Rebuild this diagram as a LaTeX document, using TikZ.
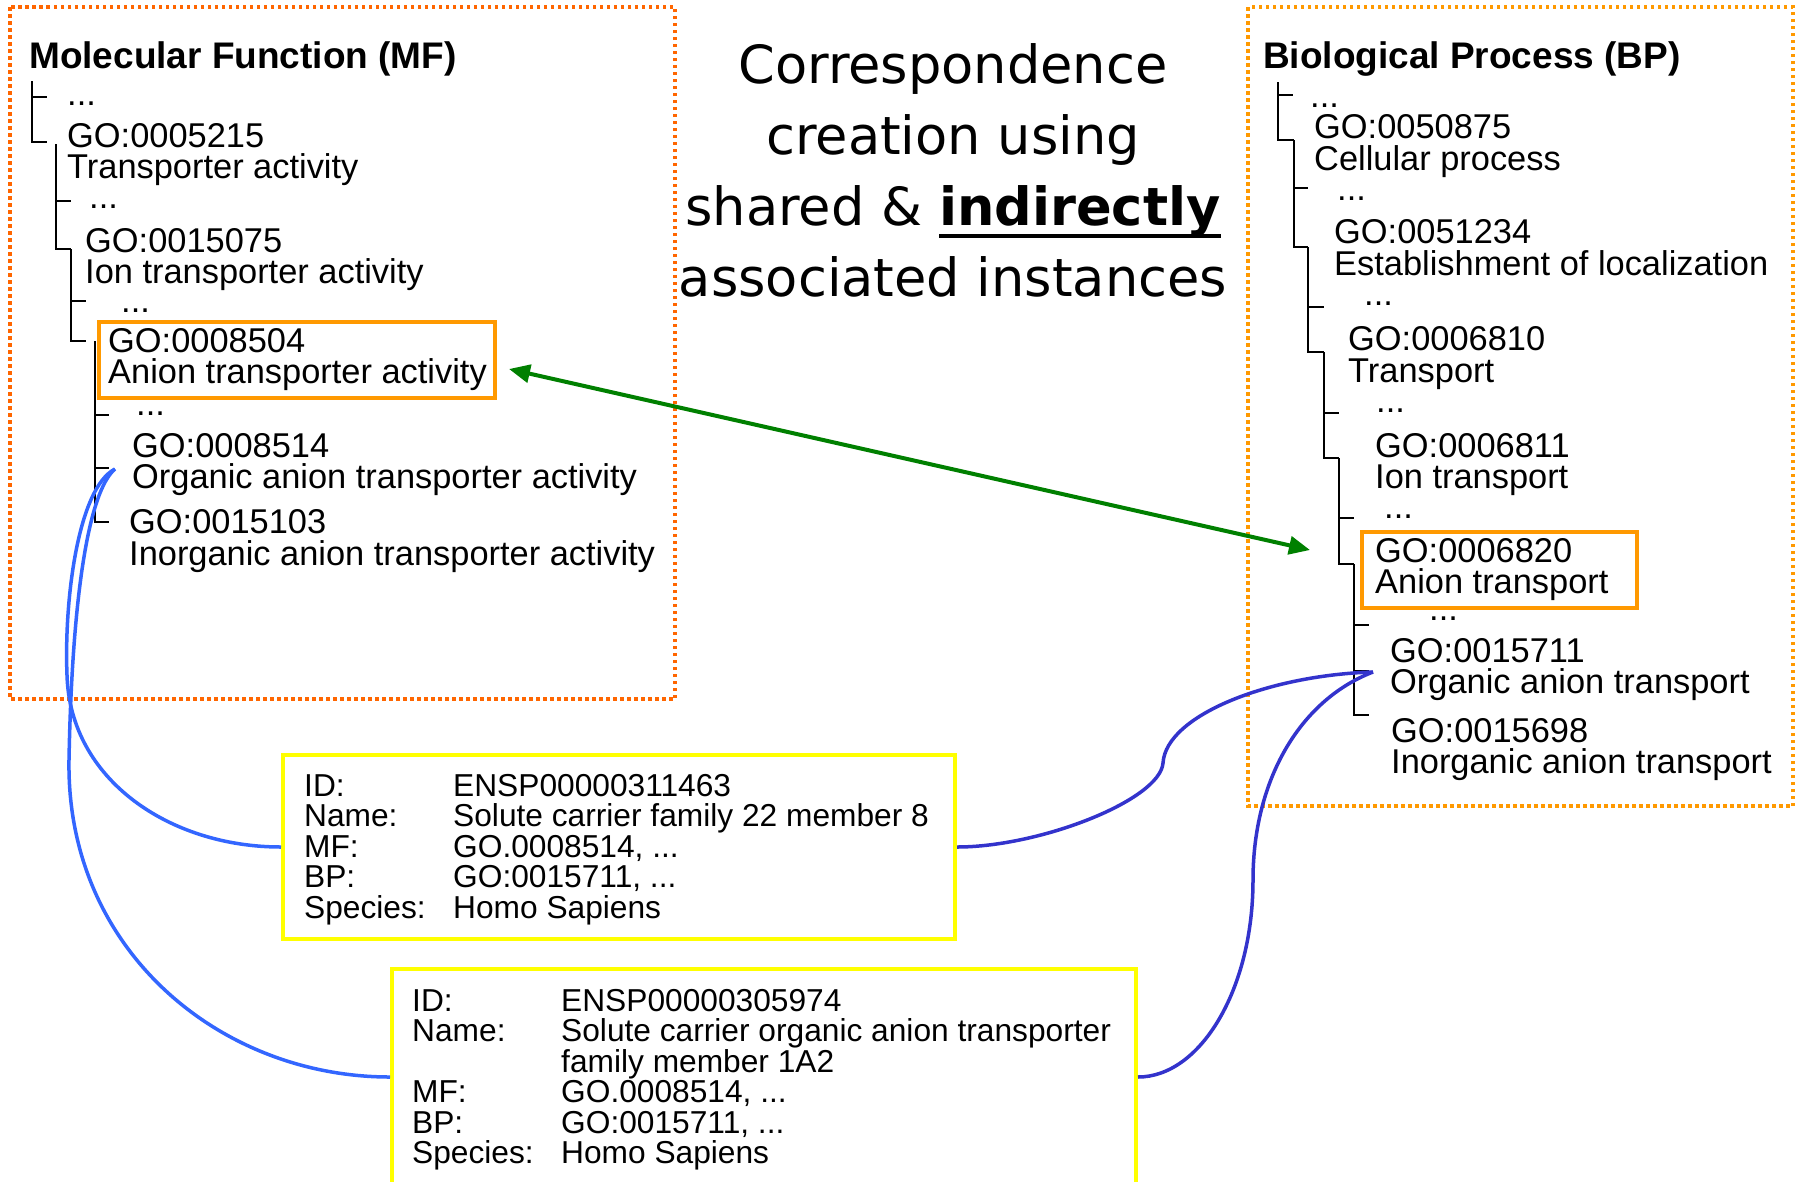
\documentclass[tikz,border=0pt]{standalone}
\usepackage{fontspec}
\setmainfont{Liberation Sans}
\newfontfamily\titlefont{DejaVu Sans}
\usetikzlibrary{arrows.meta}
\definecolor{mforange}{RGB}{255,102,0}
\definecolor{bporange}{RGB}{255,153,0}
\definecolor{hlorange}{RGB}{255,153,0}
\definecolor{ybox}{RGB}{255,255,0}
\definecolor{lblue}{RGB}{51,102,255}
\definecolor{dblue}{RGB}{51,51,204}
\definecolor{arrgreen}{RGB}{0,128,0}
\newcommand\myul[1]{\setbox0\hbox{#1}\rlap{\rule[-13pt]{\wd0}{4pt}}\box0}
\begin{document}
\begin{tikzpicture}[x=1pt,y=-1pt,
  treetxt/.style={anchor=base west, inner sep=0pt, font=\fontsize{34.4}{32}\selectfont},
  headtxt/.style={anchor=base west, inner sep=0pt, font=\fontsize{37}{40}\selectfont\bfseries},
  boxtxt/.style={anchor=base west, inner sep=0pt, font=\fontsize{31.7}{30.5}\selectfont},
  titletxt/.style={anchor=base, inner sep=0pt, font=\titlefont\fontsize{52.6}{71}\selectfont},
  treeline/.style={line width=2.4pt, black},
  ontobox/.style={line width=3.5pt, dash pattern=on 3.5pt off 3.5pt},
  hlbox/.style={draw=hlorange, line width=3.5pt, inner sep=0pt},
  instbox/.style={draw=ybox, line width=4pt, inner sep=0pt},
  lcurve/.style={lblue, line width=3.5pt},
  rcurve/.style={dblue, line width=3.5pt},
  corr/.style={arrgreen, line width=4pt, {Triangle[length=21pt,width=18pt]}-{Triangle[length=21pt,width=18pt]}}
]
\useasboundingbox (0,0) rectangle (1803,1181);
\fill[white] (0,0) rectangle (1803,1181);

% ontology frames
\draw[ontobox, mforange] (10,7) rectangle (675,699);
\draw[ontobox, bporange] (1248,7) rectangle (1793,806);

% highlight boxes
\node[hlbox, minimum width=396pt, minimum height=76pt] (mfhl) at (297,360) {};
\node[hlbox, minimum width=275pt, minimum height=76pt] (bphl) at (1499.5,570) {};

% instance boxes
\node[instbox, minimum width=672pt, minimum height=184pt] (inst1) at (619,847) {};
\node[instbox, minimum width=744pt, minimum height=216pt] (inst2) at (764,1077) {};

% ---------------- MF tree ----------------
\node[headtxt] (mfhead) at (29,68) {Molecular Function (MF)};
\draw[treeline] (32,81) -- (32,142) -- (47,142);
\draw[treeline] (32,97) -- (47,97);
\draw[treeline] (56,144) -- (56,249) -- (71,249);
\draw[treeline] (56,201) -- (71,201);
\draw[treeline] (71,249) -- (71,341) -- (86,341);
\draw[treeline] (71,301) -- (86,301);
\draw[treeline] (95,341) -- (95,522) -- (109,522);
\draw[treeline] (95,415) -- (109,415);
\draw[treeline] (95,468) -- (109,468);

\node[treetxt] (mfd1) at (67,105) {...};
\node[treetxt] (mf5215) at (67,147) {GO:0005215};
\node[treetxt] (mf5215n) at (67,178) {Transporter activity};
\node[treetxt] (mfd2) at (89,208) {...};
\node[treetxt] (mf15075) at (85,252) {GO:0015075};
\node[treetxt] (mf15075n) at (85,283) {Ion transporter activity};
\node[treetxt] (mfd3) at (121,312) {...};
\node[treetxt] (mf8504) at (108,352) {GO:0008504};
\node[treetxt] (mf8504n) at (108,383) {Anion transporter activity};
\node[treetxt] (mfd4) at (136,415) {...};
\node[treetxt] (mf8514) at (132,457) {GO:0008514};
\node[treetxt] (mf8514n) at (132,488) {Organic anion transporter activity};
\node[treetxt] (mf15103) at (129,533) {GO:0015103};
\node[treetxt] (mf15103n) at (129,565) {Inorganic anion transporter activity};

% ---------------- BP tree ----------------
\node[headtxt] (bphead) at (1263,68) {Biological Process (BP)};
\draw[treeline] (1278,82) -- (1278,140) -- (1294,140);
\draw[treeline] (1278,95) -- (1293,95);
\draw[treeline] (1294,140) -- (1294,247) -- (1308,247);
\draw[treeline] (1294,188) -- (1308,188);
\draw[treeline] (1308,247) -- (1308,352) -- (1324,352);
\draw[treeline] (1308,307) -- (1324,307);
\draw[treeline] (1324,352) -- (1324,458) -- (1339,458);
\draw[treeline] (1324,413) -- (1339,413);
\draw[treeline] (1339,458) -- (1339,564) -- (1354,564);
\draw[treeline] (1339,518) -- (1354,518);
\draw[treeline] (1354,564) -- (1354,715) -- (1369,715);
\draw[treeline] (1354,625) -- (1369,625);
\draw[treeline] (1354,671) -- (1369,671);

\node[treetxt] (bpd1) at (1310,107) {...};
\node[treetxt] (bp50875) at (1314,138) {GO:0050875};
\node[treetxt] (bp50875n) at (1314,170) {Cellular process};
\node[treetxt] (bpd2) at (1337,200) {...};
\node[treetxt] (bp51234) at (1334,243) {GO:0051234};
\node[treetxt] (bp51234n) at (1334,275) {Establishment of localization};
\node[treetxt] (bpd3) at (1364,305) {...};
\node[treetxt] (bp6810) at (1348,350) {GO:0006810};
\node[treetxt] (bp6810n) at (1348,382) {Transport};
\node[treetxt] (bpd4) at (1376,412) {...};
\node[treetxt] (bp6811) at (1375,457) {GO:0006811};
\node[treetxt] (bp6811n) at (1375,488) {Ion transport};
\node[treetxt] (bpd5) at (1384,518) {...};
\node[treetxt] (bp6820) at (1375,562) {GO:0006820};
\node[treetxt] (bp6820n) at (1375,593) {Anion transport};
\node[treetxt] (bpd6) at (1429,620) {...};
\node[treetxt] (bp15711) at (1390,662) {GO:0015711};
\node[treetxt] (bp15711n) at (1390,693) {Organic anion transport};
\node[treetxt] (bp15698) at (1391,742) {GO:0015698};
\node[treetxt] (bp15698n) at (1391,773) {Inorganic anion transport};

% ---------------- centre title ----------------
\node[titletxt] (t1) at (953,83) {Correspondence};
\node[titletxt] (t2) at (953,154) {creation using};
\node[titletxt] (t3) at (953,225) {shared \& \myul{\bfseries indirectly}};
\node[titletxt] (t4) at (953,296) {associated instances};

% ---------------- instance 1 ----------------
\node[boxtxt] (i1l1) at (304,796) {ID:};
\node[boxtxt] (i1v1) at (453,796) {ENSP00000311463};
\node[boxtxt] (i1l2) at (304,826.5) {Name:};
\node[boxtxt] (i1v2) at (453,826.5) {Solute carrier family 22 member 8};
\node[boxtxt] (i1l3) at (304,857) {MF:};
\node[boxtxt] (i1v3) at (453,857) {GO.0008514, ...};
\node[boxtxt] (i1l4) at (304,887.5) {BP:};
\node[boxtxt] (i1v4) at (453,887.5) {GO:0015711, ...};
\node[boxtxt] (i1l5) at (304,918) {Species:};
\node[boxtxt] (i1v5) at (453,918) {Homo Sapiens};

% ---------------- instance 2 ----------------
\node[boxtxt] (i2l1) at (412,1011) {ID:};
\node[boxtxt] (i2v1) at (561,1011) {ENSP00000305974};
\node[boxtxt] (i2l2) at (412,1041.5) {Name:};
\node[boxtxt] (i2v2) at (561,1041.5) {Solute carrier organic anion transporter};
\node[boxtxt] (i2v2b) at (561,1072) {family member 1A2};
\node[boxtxt] (i2l3) at (412,1102.5) {MF:};
\node[boxtxt] (i2v3) at (561,1102.5) {GO.0008514, ...};
\node[boxtxt] (i2l4) at (412,1133) {BP:};
\node[boxtxt] (i2v4) at (561,1133) {GO:0015711, ...};
\node[boxtxt] (i2l5) at (412,1163.5) {Species:};
\node[boxtxt] (i2v5) at (561,1163.5) {Homo Sapiens};

% ---------------- connectors ----------------
\coordinate (gL) at (509,369);
\coordinate (gR) at (1310,550);
\draw[corr] (gL) -- (gR);

\coordinate (mfsrc) at (115,469);
\coordinate (bpsrc) at (1373,672);
\draw[lcurve] (mfsrc) .. controls (78,488) and (64,600) .. (67,675)
  .. controls (70,780) and (170,847) .. (inst1.west);
\draw[lcurve] (mfsrc) .. controls (88,492) and (72,600) .. (69,760)
  .. controls (66,950) and (220,1077) .. (inst2.west);
\draw[rcurve] (inst1.east) .. controls (1040,847) and (1160,800) .. (1163,763)
  .. controls (1166,715) and (1270,675) .. (bpsrc);
\draw[rcurve] (inst2.east) .. controls (1200,1077) and (1253,990) .. (1253,880)
  .. controls (1253,780) and (1300,700) .. (bpsrc);
\end{tikzpicture}
\end{document}
